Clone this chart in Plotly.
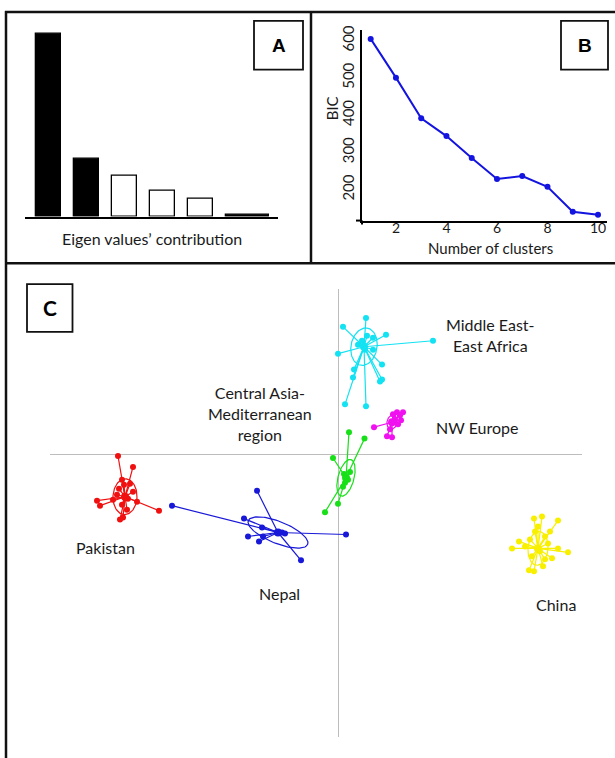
import numpy as np
import plotly.graph_objects as go

W, H = 615, 758

def px(x):
    return x / W

def py(y):
    return 1 - y / H

# ---------------- Panel A: eigenvalues ----------------
eig_pos = [1, 2, 3, 4, 5, 6.24]
eig_val = [100, 31.5, 22.3, 14.1, 9.8, 0.9]
eig_width = [0.66, 0.66, 0.66, 0.66, 0.66, 1.13]
eig_fill = ["black", "black", "white", "white", "white", "black"]

# ---------------- Panel B: BIC ----------------
n_clusters = [1, 2, 3, 4, 5, 6, 7, 8, 9, 10]
bic = [605, 501, 392, 344, 285, 229, 237, 208, 141, 133]
bic_ticks = [200, 300, 400, 500, 600]
k_ticks = [2, 4, 6, 8, 10]

# ---------------- Panel C: DAPC scatter ----------------
mea_x = [0.28, 0.05, 0.48, 0.95, 0.00, 0.44, 0.16, 0.15, 0.44, 0.42, 0.07, 0.28, 0.35, 0.35, 0.29, 0.20, 0.27, 0.24]
mea_y = [1.37, 1.28, 1.20, 1.14, 1.01, 0.90, 0.85, 0.77, 0.75, 0.73, 0.50, 0.48, 1.17, 1.05, 1.19, 1.10, 1.05, 1.14]
nwe_x = [0.36, 0.49, 0.54, 0.59, 0.65, 0.62, 0.57, 0.60, 0.52, 0.55, 0.63]
nwe_y = [0.27, 0.18, 0.17, 0.42, 0.42, 0.39, 0.35, 0.30, 0.25, 0.40, 0.34]
cam_x = [0.11, 0.265, -0.05, -0.13, 0.00, 0.06, 0.10, 0.07, 0.12, 0.05]
cam_y = [0.22, 0.155, -0.04, -0.585, -0.50, -0.20, -0.26, -0.29, -0.18, -0.33]
pak_x = [-2.20, -2.05, -2.41, -2.38, -1.79, -2.18, -2.15, -2.16, -2.08, -2.19, -2.05, -2.25, -2.10, -2.01, -2.16, -2.11, -2.14, -2.21]
pak_y = [-0.02, -0.13, -0.47, -0.52, -0.57, -0.66, -0.64, -0.26, -0.30, -0.35, -0.38, -0.46, -0.45, -0.48, -0.51, -0.56, -0.31, -0.41]
nep_x = [-1.66, -0.81, -0.94, -0.90, -0.79, -0.75, -0.37, 0.08, -0.76, -0.61, -0.56, -0.53]
nep_y = [-0.52, -0.37, -0.65, -0.83, -0.88, -0.83, -1.07, -0.81, -0.74, -0.79, -0.79, -0.80]
chn_x = [2.04, 1.96, 2.20, 1.74, 1.81, 2.30, 2.20, 1.91, 1.96, 2.05, 2.14, 1.97, 2.07, 1.92, 2.10, 2.02, 1.94, 2.07, 1.87, 2.12, 2.00]
chn_y = [-0.63, -0.65, -0.67, -0.95, -0.88, -0.99, -0.95, -1.17, -1.18, -1.13, -1.05, -0.78, -0.83, -0.86, -0.90, -0.98, -1.03, -1.06, -0.93, -0.78, -0.73]

group_names = ["Middle East-<br>East Africa", "NW Europe", "Central Asia-<br>Mediterranean<br>region", "Pakistan", "Nepal", "China"]
group_colors = ["#12e2f2", "#f010f0", "#18e018", "#f01010", "#1818d8", "#f8f000"]
group_xs = [mea_x, nwe_x, cam_x, pak_x, nep_x, chn_x]
group_ys = [mea_y, nwe_y, cam_y, pak_y, nep_y, chn_y]
centroid_x = [0.26, 0.54, 0.08, -2.13, -0.60, 2.00]
centroid_y = [1.08, 0.32, -0.24, -0.43, -0.79, -0.95]
ell_a = [0.19, 0.07, 0.19, 0.18, 0.32, 0.17]
ell_b = [0.13, 0.05, 0.08, 0.12, 0.11, 0.10]
ell_angle = [80, 80, 75, 88, -22, 85]

label_x = [1.52, 1.39, -0.78, -2.33, -0.59, 2.18]
label_y = [1.20, 0.27, 0.41, -0.94, -1.40, -1.51]

fig = go.Figure()

# Panel A bars
fig.add_trace(go.Bar(
    x=eig_pos, y=eig_val, width=eig_width,
    marker=dict(color=eig_fill, line=dict(color="black", width=1.3)),
    xaxis="x", yaxis="y", showlegend=False, hoverinfo="skip"))

# Panel B line
fig.add_trace(go.Scatter(
    x=n_clusters, y=bic, mode="lines+markers",
    line=dict(color="#1414e0", width=2), marker=dict(color="#1414e0", size=6),
    xaxis="x2", yaxis="y2", showlegend=False))

# Panel C
t = np.linspace(0, 2 * np.pi, 100)
for i in range(len(group_names)):
    gx, gy = group_xs[i], group_ys[i]
    cx, cy = centroid_x[i], centroid_y[i]
    col = group_colors[i]
    sx, sy = [], []
    for a, b in zip(gx, gy):
        sx += [cx, a, None]
        sy += [cy, b, None]
    fig.add_trace(go.Scatter(x=sx, y=sy, mode="lines", line=dict(color=col, width=1.2),
                             xaxis="x3", yaxis="y3", showlegend=False, hoverinfo="skip"))
    th = np.deg2rad(ell_angle[i])
    ex = cx + ell_a[i] * np.cos(t) * np.cos(th) - ell_b[i] * np.sin(t) * np.sin(th)
    ey = cy + ell_a[i] * np.cos(t) * np.sin(th) + ell_b[i] * np.sin(t) * np.cos(th)
    fig.add_trace(go.Scatter(x=ex, y=ey, mode="lines", line=dict(color=col, width=1.2),
                             xaxis="x3", yaxis="y3", showlegend=False, hoverinfo="skip"))
    fig.add_trace(go.Scatter(x=gx, y=gy, mode="markers", marker=dict(color=col, size=6),
                             xaxis="x3", yaxis="y3", showlegend=False))
    fig.add_trace(go.Scatter(x=[cx], y=[cy], mode="markers", marker=dict(color=col, size=8),
                             xaxis="x3", yaxis="y3", showlegend=False))

font_lbl = dict(family="Lato", size=16, color="#1a1a1a")
annotations = []
for i in range(len(group_names)):
    annotations.append(dict(x=label_x[i], y=label_y[i], xref="x3", yref="y3", text=group_names[i],
                            showarrow=False, font=font_lbl, align="center",
                            xanchor="center", yanchor="middle"))

def pann(x, y, text, font, **kw):
    d = dict(x=px(x), y=py(y), xref="paper", yref="paper", text=text, showarrow=False,
             font=font, xanchor="center", yanchor="middle")
    d.update(kw)
    return d

annotations += [
    pann(152, 235, "Eigen values’ contribution", dict(family="Lato", size=16, color="#1a1a1a")),
    pann(278.5, 40.5, "<b>A</b>", dict(family="Liberation Sans", size=19, color="black")),
    pann(584.5, 40.5, "<b>B</b>", dict(family="Liberation Sans", size=19, color="black")),
    pann(49.5, 305, "<b>C</b>", dict(family="Lato", size=21, color="black")),
    pann(490, 245, "Number of clusters", dict(family="Lato", size=15, color="#1a1a1a")),
    pann(332, 104, "BIC", dict(family="Lato", size=15, color="#1a1a1a"), textangle=-90),
]

def pline(x0, y0, x1, y1, w=2.5, color="#111111"):
    return dict(type="line", xref="paper", yref="paper", x0=px(x0), y0=py(y0), x1=px(x1), y1=py(y1),
                line=dict(color=color, width=w))

def pbox(x0, y0, x1, y1):
    return dict(type="rect", xref="paper", yref="paper", x0=px(x0), y0=py(y0), x1=px(x1), y1=py(y1),
                line=dict(color="#111111", width=1.8))

shapes = [
    pline(5, 7, 615, 7),
    pline(6, 6, 6, 758),
    pline(311, 7, 311, 260),
    pline(5, 260, 615, 260),
    pbox(254, 16, 303, 65),
    pbox(561, 16, 608, 65),
    pbox(27, 281, 72.5, 329),
    pline(356, 217, 362, 217, w=2, color="black"),
    pline(362, 217, 362, 221, w=2, color="black"),
]

fig.update_layout(
    width=W, height=H, margin=dict(l=0, r=0, t=0, b=0),
    paper_bgcolor="white", plot_bgcolor="rgba(0,0,0,0)",
    bargap=0,
    xaxis=dict(domain=[px(25), px(278)], range=[0.382, 7.04], showline=True, linecolor="black",
               linewidth=2, showticklabels=False, ticks="", showgrid=False, zeroline=False),
    yaxis=dict(domain=[py(213), py(20)], range=[0, 104.9], visible=False),
    xaxis2=dict(domain=[px(362), px(607)], range=[0.656, 10.356], tickvals=k_ticks, showline=True,
                linecolor="black", linewidth=2, ticks="", ticklen=0, ticklabelstandoff=-6,
                showgrid=False, zeroline=False,
                tickfont=dict(family="Lato", size=14, color="#1a1a1a"), anchor="y2"),
    yaxis2=dict(domain=[py(217), py(25)], range=[117.3, 629.3], tickvals=bic_ticks, tickangle=-90,
                showline=True, linecolor="black", linewidth=2, ticks="", showgrid=False, zeroline=False,
                tickfont=dict(family="Lato", size=15, color="#1a1a1a"), anchor="x2"),
    xaxis3=dict(domain=[px(50), px(582)], range=[-2.88, 2.44], showgrid=False, zeroline=True,
                zerolinecolor="#bdbdbd", zerolinewidth=1, showticklabels=False, ticks="", anchor="y3"),
    yaxis3=dict(domain=[py(737), py(286)], range=[-2.85, 1.66], showgrid=False, zeroline=True,
                zerolinecolor="#bdbdbd", zerolinewidth=1, showticklabels=False, ticks="", anchor="x3"),
    annotations=annotations,
    shapes=shapes,
)

post = (
    "document.documentElement.style.margin='0';document.documentElement.style.padding='0';"
    "document.body.style.margin='0';document.body.style.padding='0';document.body.style.overflow='hidden';"
    "var gd=document.querySelector('.plotly-graph-div');"
    "gd.parentElement.style.cssText='margin:0;padding:0;line-height:0;font-size:0;';"
    "gd.style.margin='0';"
)
fig.write_html("out.html", config={"displayModeBar": False}, post_script=post)
